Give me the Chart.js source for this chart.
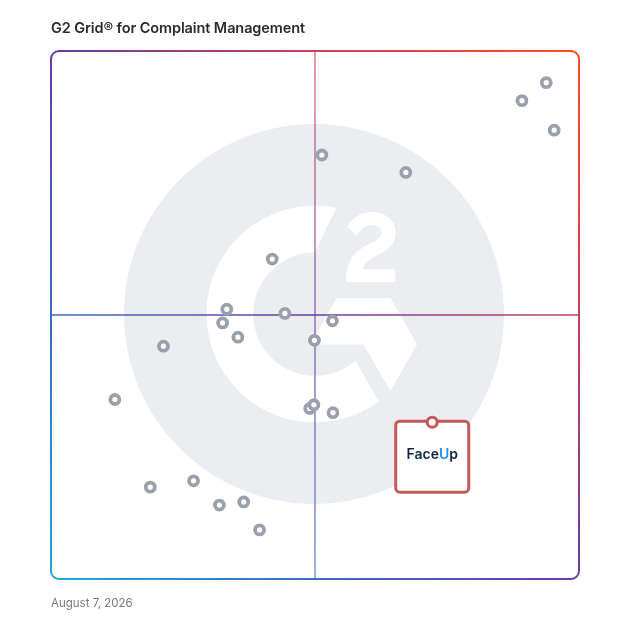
<!DOCTYPE html>
<html>
<head>
<meta charset="utf-8">
<script src="https://cdn.jsdelivr.net/npm/chart.js@4"></script>
<style>
  body { margin: 0; background: #fff; }
  #wrap { position: relative; width: 628px; height: 628px; }
  #chart { position: absolute; left: 0; top: 0; }
  .title { position: absolute; left: 51px; top: 19px; font: 600 14.5px Inter, sans-serif; color: #2b2b2b; letter-spacing: -0.1px; }
  .date { position: absolute; left: 51px; top: 596px; font: 400 11.5px Inter, sans-serif; color: #7a7a7a; }
</style>
</head>
<body>
<div id="wrap">
  <canvas id="chart" width="628" height="628"></canvas>
  <div class="title">G2 Grid® for Complaint Management</div>
  <div class="date">August 7, 2026</div>
</div>
<script>
// x = satisfaction, y = market presence (0-100, grid center at 50)
const satisfaction = [93.8, 89.2, 95.3, 51.3, 67.2, 41.9, 33.3, 44.3, 32.5, 53.3, 35.4, 49.9,
  21.3, 12.1, 49.0, 49.8, 53.4, 18.8, 27.0, 31.9, 36.5, 39.5];
const marketPresence = [94.0, 90.6, 85.0, 80.3, 77.0, 60.6, 51.1, 50.3, 48.5, 48.9, 45.8, 45.2,
  44.1, 34.0, 32.3, 33.0, 31.5, 17.4, 18.6, 14.0, 14.6, 9.3];
const faceUpSatisfaction = [72.2];
const faceUpPresence = [29.7];
const faceUpLabel = 'FaceUp';

const g2Mark = {
  two: 'M71.5 38.5H60.8c.3-1.7 1.3-2.6 3.4-4l2-1c3.6-1.8 5.5-3.9 5.5-7.3 0-2.1-.8-3.8-2.4-5s-3.5-1.8-5.7-1.8c-1.7 0-3.3.4-4.8 1.4-1.4.9-2.5 2-3.2 3.4l3.1 3.1c1.2-2.4 2.9-3.6 5.2-3.6 1.9 0 3.1 1 3.1 2.4 0 1.2-.6 2.2-2.9 3.4l-1.3.6c-2.8 1.4-4.8 3-5.9 4.9-1.1 1.8-1.7 4.1-1.7 6.9v.8h16.3v-4.2z',
  chevron: 'M70 48.1H52.1l-8.9 15.5H61l8.9 15.5 8.9-15.5L70 48.1z',
  g: 'M44.8 74c-11.4 0-20.6-9.3-20.6-20.6s9.3-20.6 20.6-20.6l7.1-14.8c-2.3-.5-4.7-.7-7.1-.7C24.8 17.3 8.7 33.4 8.7 53.4s16.2 36.1 36.1 36.1c8 0 15.3-2.6 21.3-6.9L58.3 69c-3.6 3.1-8.4 5-13.5 5z'
};

function roundRect(ctx, x, y, w, h, r) {
  ctx.beginPath();
  ctx.roundRect(x, y, w, h, r);
}

const gridBackdrop = {
  id: 'gridBackdrop',
  beforeDatasetsDraw(chart) {
    const { ctx, chartArea: a, scales } = chart;
    const u = a.width / 528;
    const cx = scales.x.getPixelForValue(50);
    const cy = scales.y.getPixelForValue(50);
    ctx.save();

    // watermark
    ctx.fillStyle = '#ebedf0';
    ctx.beginPath();
    ctx.arc(cx - u, cy - u, 190 * u, 0, Math.PI * 2);
    ctx.fill();
    ctx.save();
    ctx.translate(cx, cy - u);
    ctx.scale(3 * u, 3 * u);
    ctx.translate(-44.8, -53.4);
    ctx.fillStyle = '#ffffff';
    ctx.fill(new Path2D(g2Mark.g));
    ctx.fill(new Path2D(g2Mark.two));
    ctx.fill(new Path2D(g2Mark.chevron));
    ctx.restore();

    // gradient for frame and quadrant lines
    const grad = ctx.createLinearGradient(a.left, a.bottom, a.right, a.top);
    grad.addColorStop(0, '#1ea9dd');
    grad.addColorStop(0.25, '#3b6cc1');
    grad.addColorStop(0.5, '#6a3aa6');
    grad.addColorStop(0.75, '#c8405c');
    grad.addColorStop(1, '#ff4d27');

    ctx.strokeStyle = grad;
    ctx.lineWidth = 1.5;
    ctx.beginPath();
    ctx.moveTo(a.left, cy);
    ctx.lineTo(a.right, cy);
    ctx.stroke();
    ctx.globalAlpha = 0.7;
    ctx.beginPath();
    ctx.moveTo(cx, a.top);
    ctx.lineTo(cx, a.bottom);
    ctx.stroke();
    ctx.globalAlpha = 1;

    ctx.lineWidth = 2;
    roundRect(ctx, a.left, a.top, a.width, a.height, 8 * u);
    ctx.stroke();

    // highlighted product card
    const px = scales.x.getPixelForValue(faceUpSatisfaction[0]);
    const py = scales.y.getPixelForValue(faceUpPresence[0]);
    roundRect(ctx, px - 36.5, py - 1, 73, 71, 4);
    ctx.fillStyle = '#ffffff';
    ctx.fill();
    ctx.strokeStyle = '#c25a5a';
    ctx.lineWidth = 3;
    ctx.stroke();

    ctx.font = '600 14px Inter, sans-serif';
    ctx.textBaseline = 'alphabetic';
    const parts = [['Face', '#0f2540'], ['U', '#2b8fe6'], ['p', '#0f2540']];
    const total = parts.reduce((s, p) => s + ctx.measureText(p[0]).width, 0);
    let tx = px - total / 2;
    parts.forEach(([t, c]) => {
      ctx.fillStyle = c;
      ctx.fillText(t, tx, py + 36.5);
      tx += ctx.measureText(t).width;
    });
    ctx.restore();
  }
};

new Chart(document.getElementById('chart'), {
  type: 'scatter',
  data: {
    datasets: [
      {
        label: 'Products',
        data: satisfaction.map((x, i) => ({ x, y: marketPresence[i] })),
        pointRadius: 4.5,
        pointBorderWidth: 3.8,
        pointBorderColor: '#9ba1ac',
        pointBackgroundColor: '#ffffff',
        pointHoverRadius: 4.5,
      },
      {
        label: faceUpLabel,
        data: faceUpSatisfaction.map((x, i) => ({ x, y: faceUpPresence[i] })),
        pointRadius: 5,
        pointBorderWidth: 3,
        pointBorderColor: '#c25a5a',
        pointBackgroundColor: '#ffffff',
      },
    ],
  },
  options: {
    responsive: false,
    animation: false,
    layout: { padding: { left: 51, right: 49, top: 51, bottom: 49 } },
    plugins: { legend: { display: false }, tooltip: { enabled: false } },
    scales: {
      x: { display: false, min: 0, max: 100 },
      y: { display: false, min: 0, max: 100 },
    },
  },
  plugins: [gridBackdrop],
});
</script>
</body>
</html>
